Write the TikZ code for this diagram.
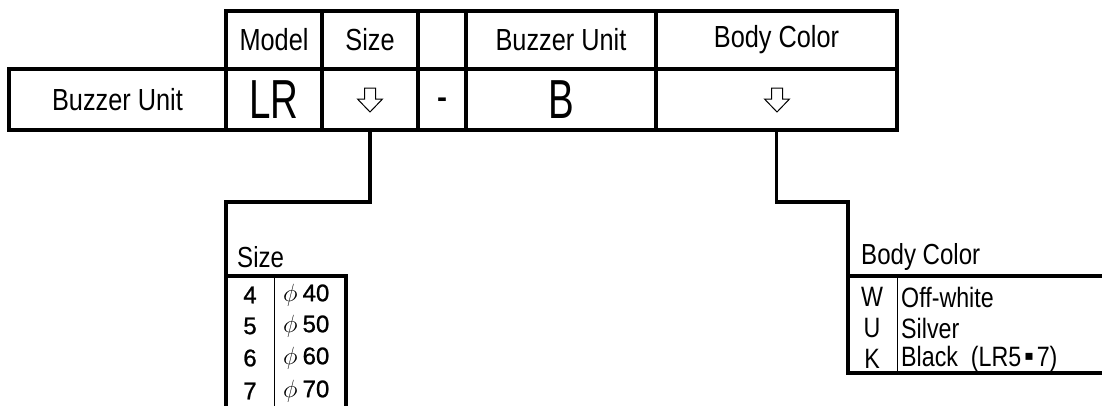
\documentclass[tikz,border=0pt]{standalone}
\usepackage{fontspec}
\setmainfont{Liberation Sans}
\newfontfamily\narrowf[FakeStretch=0.83]{Liberation Sans}
\newfontfamily\tallf[FakeStretch=0.7]{Liberation Sans}
\newfontfamily\digitf[FakeBold=1]{Liberation Sans}
\newfontfamily\symf{DejaVu Sans}
\begin{document}
\begin{tikzpicture}[x=1pt,y=-1pt,
  cell/.style={draw, line width=3.2pt, inner sep=0pt, outer sep=0pt, anchor=center},
  hdr/.style={font=\narrowf\fontsize{30.5}{34}\selectfont},
  big/.style={font=\tallf\fontsize{55}{60}\selectfont},
  conn/.style={line width=3.2pt},
  outline/.style={line width=3.2pt},
  divider/.style={line width=1pt},
  captext/.style={anchor=west, inner sep=0pt, font=\narrowf\fontsize{29}{32}\selectfont},
  codetext/.style={anchor=center, inner sep=0pt, font=\narrowf\fontsize{28}{30}\selectfont},
  valtext/.style={anchor=west, inner sep=0pt, font=\narrowf\fontsize{28}{30}\selectfont},
  digit/.style={anchor=center, inner sep=0pt, font=\digitf\fontsize{24}{28}\selectfont},
  dia/.style={anchor=west, inner sep=0pt, font=\digitf\fontsize{24}{28}\selectfont},
  hollowdown/.pic={\draw[line width=1pt, line join=miter]
      (-5.5,-12) -- (5.5,-12) -- (5.5,-1) -- (12.5,-1) -- (0,12) -- (-12.5,-1) -- (-5.5,-1) -- cycle;}
]
\useasboundingbox (0,0) rectangle (1102,405);

% header row
\node[cell, hdr, minimum width=96pt, minimum height=58pt] (h1) at (274,40) {Model};
\node[cell, hdr, minimum width=96pt, minimum height=58pt] (h2) at (370,40) {Size};
\node[cell, hdr, minimum width=48pt, minimum height=58pt] (h3) at (442,40) {};
\node[cell, hdr, minimum width=190pt, minimum height=58pt] (h4) at (561,40) {Buzzer Unit};
\node[cell, hdr, minimum width=241pt, minimum height=58pt] (h5) at (776.5,40) {Body Color};

% value row
\node[cell, hdr, minimum width=217pt, minimum height=61pt] (r0) at (117.5,99.5) {Buzzer Unit};
\node[cell, big, minimum width=96pt, minimum height=61pt] (r1) at (274,99.5) {LR};
\node[cell, minimum width=96pt, minimum height=61pt] (r2) at (370,99.5) {};
\node[cell, minimum width=48pt, minimum height=61pt] (r3) at (442,99.5) {};
\node[inner sep=0pt, font=\bfseries\fontsize{30}{34}\selectfont] (dash) at (442,103) {-};
\node[cell, big, minimum width=190pt, minimum height=61pt] (r4) at (561,99.5) {B};
\node[cell, minimum width=241pt, minimum height=61pt] (r5) at (776.5,99.5) {};
\pic at (370,100) {hollowdown};
\pic at (777,100) {hollowdown};

% Size sub-table
\node[captext] (sizecap) at (237,257) {Size};
\node[inner sep=0pt, outer sep=0pt, minimum width=120pt, minimum height=140pt, anchor=north west] (sizetab) at (226,276) {};
\draw[outline] (sizetab.south west) -- (sizetab.north west) -- (sizetab.north east) -- (sizetab.south east);
\coordinate (sdtop) at (274,276);
\draw[divider] (sdtop) -- ++(0,140);
\foreach \d/\y in {4/295,5/326,6/358,7/391}{
  \node[digit] (sd\d) at (250,\y) {\d};
  \node[dia] (sv\d) at (283,\y) {{\fontsize{30}{30}\selectfont$\phi$}\kern5pt\d0};
}
\draw[conn] (r2.south) -- ++(0,72) -| (sizetab.north west);

% Body Color sub-table
\node[captext] (bccap) at (861,257) {Body Color};
\node[inner sep=0pt, outer sep=0pt, minimum width=262pt, minimum height=97pt, anchor=north west] (bctab) at (848,276) {};
\draw[outline] (bctab.north east) -- (bctab.north west) -- (bctab.south west) -- (bctab.south east);
\coordinate (bdtop) at (897,276);
\draw[divider] (bdtop) -- ++(0,97);
\node[codetext] (cW) at (872,297) {W};
\node[valtext] (vW) at (901,297) {Off-white};
\node[codetext] (cU) at (872,328) {U};
\node[valtext] (vU) at (901,328) {Silver};
\node[codetext] (cK) at (872,359) {K};
\node[valtext] (vK) at (901,359) {Black\ \ (LR5\kern3pt\raisebox{6pt}{\symf\fontsize{14}{14}\selectfont ▪}\kern3pt 7)};
\draw[conn] (r5.south) -- ++(0,72) -| (bctab.north west);
\end{tikzpicture}
\end{document}
